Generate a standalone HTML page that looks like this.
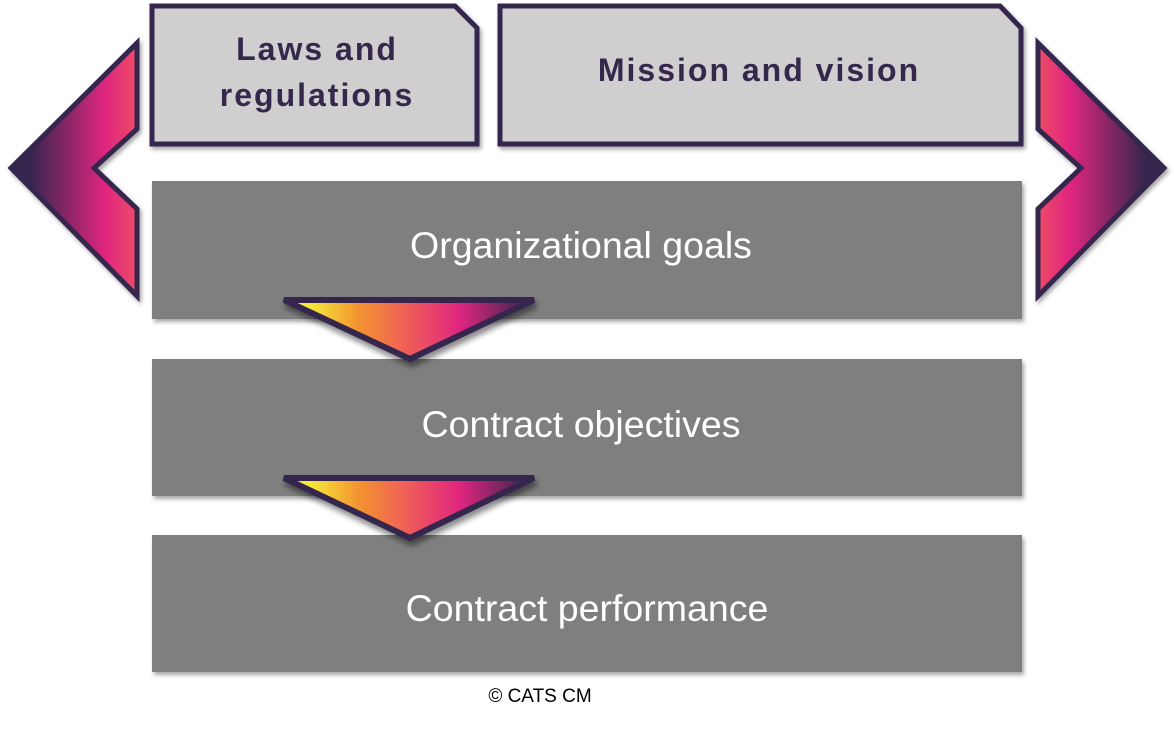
<!DOCTYPE html>
<html><head><meta charset="utf-8"><style>
body{margin:0;width:1174px;height:727px;background:#fff;overflow:hidden;font-family:"Liberation Sans",sans-serif}
</style></head><body>
<svg width="1174" height="727" viewBox="0 0 1174 727" xmlns="http://www.w3.org/2000/svg">
<defs>
<linearGradient id="lg" x1="0" x2="1" y1="0" y2="0">
<stop offset="0.15" stop-color="#36274d"/><stop offset="0.75" stop-color="#e0267f"/><stop offset="1" stop-color="#ee4b66"/></linearGradient>
<linearGradient id="rg" x1="1" x2="0" y1="0" y2="0">
<stop offset="0.15" stop-color="#36274d"/><stop offset="0.75" stop-color="#e0267f"/><stop offset="1" stop-color="#ee4b66"/></linearGradient>
<linearGradient id="tg" x1="0" x2="1">
<stop offset="0.1" stop-color="#f6ea3a"/><stop offset="0.3" stop-color="#f39330"/><stop offset="0.5" stop-color="#ef5c5a"/><stop offset="0.7" stop-color="#e0267f"/><stop offset="0.95" stop-color="#4a2750"/></linearGradient>
<filter id="sh" x="-10%" y="-10%" width="130%" height="140%"><feDropShadow dx="2" dy="5" stdDeviation="3" flood-color="#000" flood-opacity="0.45"/></filter>
<filter id="sh2" x="-10%" y="-10%" width="130%" height="130%"><feDropShadow dx="2" dy="3" stdDeviation="2" flood-color="#000" flood-opacity="0.35"/></filter>
</defs>
<polygon points="11,168 137,43 137,129 94,168 137,209 137,296" fill="url(#lg)" stroke="#36274d" stroke-width="5" filter="url(#sh2)"/>
<polygon points="1164,168 1038,43 1038,129 1081,168 1038,209 1038,296" fill="url(#rg)" stroke="#36274d" stroke-width="5" filter="url(#sh2)"/>
<polygon points="152,6 455,6 477,28 477,144 152,144" fill="#d0cecf" stroke="#36274d" stroke-width="5" filter="url(#sh2)"/>
<polygon points="500,6 1000,6 1021,28 1021,144 500,144" fill="#d0cecf" stroke="#36274d" stroke-width="5" filter="url(#sh2)"/>
<text x="317" y="60" text-anchor="middle" font-size="32" font-weight="bold" fill="#36274d" letter-spacing="2">Laws and</text>
<text x="317" y="106" text-anchor="middle" font-size="32" font-weight="bold" fill="#36274d" letter-spacing="2">regulations</text>
<text x="759" y="81" text-anchor="middle" font-size="32" font-weight="bold" fill="#36274d" letter-spacing="2">Mission and vision</text>
<rect x="152" y="181" width="870" height="138" fill="#7f7f7f" filter="url(#sh2)"/>
<rect x="152" y="359" width="870" height="137" fill="#7f7f7f" filter="url(#sh2)"/>
<rect x="152" y="535" width="870" height="137" fill="#7f7f7f" filter="url(#sh2)"/>
<text x="581" y="258" text-anchor="middle" font-size="37.5" fill="#fff">Organizational goals</text>
<text x="581" y="437" text-anchor="middle" font-size="37.5" fill="#fff">Contract objectives</text>
<text x="587" y="621" text-anchor="middle" font-size="37.5" fill="#fff">Contract performance</text>
<polygon points="284,300 534,300 410,359" fill="url(#tg)" stroke="#36274d" stroke-width="6" stroke-linejoin="miter" filter="url(#sh)"/>
<polygon points="284,478 534,478 410,538" fill="url(#tg)" stroke="#36274d" stroke-width="6" stroke-linejoin="miter" filter="url(#sh)"/>
<text x="540" y="702" text-anchor="middle" font-size="19" fill="#000">© CATS CM</text>
</svg>
</body></html>
